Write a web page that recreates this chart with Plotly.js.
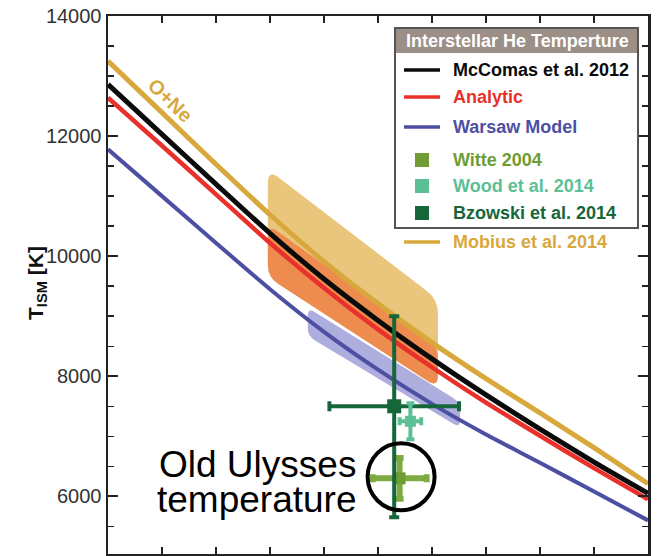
<!DOCTYPE html>
<html>
<head>
<meta charset="utf-8">
<script src="https://cdn.plot.ly/plotly-3.0.1.min.js"></script>
<style>html,body{margin:0;padding:0;background:#fff;}</style>
</head>
<body>
<div id="chart" style="width:658px;height:556px"></div>
<script>
// Inflow longitude (deg) and the temperature relations T(lambda) of each model
const lon = [70, 71, 72, 73, 74, 75, 76, 77, 78, 79, 80];
const tempMcComas  = [12860, 12030, 11200, 10380, 9620, 8930, 8290, 7690, 7120, 6570, 6050];
const tempAnalytic = [12640, 11840, 11030, 10220, 9470, 8780, 8150, 7560, 7010, 6470, 5950];
const tempWarsaw   = [11780, 11000, 10220, 9450, 8740, 8110, 7540, 7030, 6560, 6080, 5600];
const tempMobius   = [13250, 12390, 11530, 10690, 9910, 9210, 8560, 7960, 7390, 6810, 6210];

// Parameter tubes: longitude of left/right edges, upper and lower temperature at each edge
const tubeMobiusLon   = [72.96, 76.11];
const tubeMobiusUpper = [11450, 9280];
const tubeMobiusLower = [9700, 7880];
const tubeMcComasLon   = [72.96, 76.11];
const tubeMcComasUpper = [10530, 8490];
const tubeMcComasLower = [9650, 7810];
const tubeWarsawLon   = [73.70, 76.52];
const tubeWarsawUpper = [9140, 7570];
const tubeWarsawLower = [8670, 7140];

// Individual determinations with error bars
const measNames     = ['Witte 2004', 'Wood et al. 2014', 'Bzowski et al. 2014'];
const measLon       = [75.4, 75.6, 75.3];
const measLonErr    = [0.5, 0.2, 1.2];
const measTemp      = [6300, 7250, 7500];
const measTempPlus  = [340, 300, 1500];
const measTempMinus = [340, 300, 1850];

// Legend text
const legendTitle = 'Interstellar He Temperture';
const legendLabels = ['McComas et al. 2012', 'Analytic', 'Warsaw Model',
                      'Witte 2004', 'Wood et al. 2014', 'Bzowski et al. 2014', 'Mobius et al. 2014'];

const FONT = 'Arial, "Liberation Sans", sans-serif';
const C = {
  black: '#0a0a0a', red: '#e8312a', blue: '#4d4fa3', gold: '#d9a83c',
  witte: '#6f9d33', witteBar: '#7dab40', wood: '#5cbf96', bzowski: '#16663a',
  tubeGold: '#eac67c', tubeOrange: '#ee8c50', tubeBlue: 'rgba(105,105,195,0.55)',
  header: '#9b8f88'
};

// Figure geometry
const W = 658, H = 556, ML = 108, MR = 10, MT = 16, MB = 2;
const plotW = W - ML - MR, plotH = H - MT - MB;
const xr = [70, 80], yr = [5040, 14000];

const toPx = (x, y) => [(x - xr[0]) / (xr[1] - xr[0]) * plotW, (y - yr[0]) / (yr[1] - yr[0]) * plotH];
const toData = (p) => [xr[0] + p[0] / plotW * (xr[1] - xr[0]), yr[0] + p[1] / plotH * (yr[1] - yr[0])];
const fmt = (p) => { const d = toData(p); return d[0].toFixed(4) + ',' + d[1].toFixed(1); };
function along(p, q, r) {
  const dx = q[0] - p[0], dy = q[1] - p[1], len = Math.hypot(dx, dy);
  return [p[0] + dx / len * r, p[1] + dy / len * r];
}
// Quadrilateral tube with rounded corners, as an SVG path in data coordinates
function tubePath(lo, up, low, r) {
  const pts = [[lo[0], up[0]], [lo[1], up[1]], [lo[1], low[1]], [lo[0], low[0]]].map(c => toPx(c[0], c[1]));
  let d = '';
  for (let i = 0; i < 4; i++) {
    const p = pts[i], prev = pts[(i + 3) % 4], next = pts[(i + 1) % 4];
    const a = along(p, prev, r), b = along(p, next, r);
    d += (i === 0 ? 'M' : 'L') + fmt(a) + ' Q' + fmt(p) + ' ' + fmt(b) + ' ';
  }
  return d + 'Z';
}

// pixel -> paper helpers for the hand-built legend and labels
const px = (p) => (p - ML) / plotW;
const py = (p) => (H - MB - p) / plotH;

const curve = (y, color, width) => ({
  x: lon, y: y, type: 'scatter', mode: 'lines', showlegend: false, hoverinfo: 'skip',
  line: {color: color, width: width, shape: 'spline', smoothing: 0.6}
});
const meas = (i, color, barColor, size, thick, cap) => ({
  x: [measLon[i]], y: [measTemp[i]], type: 'scatter', mode: 'markers', showlegend: false,
  name: measNames[i],
  marker: {symbol: 'square', size: size, color: color},
  error_x: {type: 'data', array: [measLonErr[i]], color: barColor, thickness: thick, width: cap},
  error_y: {type: 'data', symmetric: false, array: [measTempPlus[i]], arrayminus: [measTempMinus[i]],
            color: barColor, thickness: thick, width: cap}
});

const traces = [
  curve(tempWarsaw, C.blue, 4),
  curve(tempAnalytic, C.red, 4.5),
  curve(tempMcComas, C.black, 5),
  curve(tempMobius, C.gold, 5),
  meas(0, C.witte, C.witteBar, 12, 6, 4),
  meas(2, C.bzowski, C.bzowski, 14, 4, 5),
  meas(1, C.wood, C.wood, 11, 4, 4)
];

const shapes = [
  {type: 'path', xref: 'x', yref: 'y', layer: 'below', path: tubePath(tubeMobiusLon, tubeMobiusUpper, tubeMobiusLower, 14),
   fillcolor: C.tubeGold, line: {width: 0}},
  {type: 'path', xref: 'x', yref: 'y', layer: 'below', path: tubePath(tubeMcComasLon, tubeMcComasUpper, tubeMcComasLower, 12),
   fillcolor: C.tubeOrange, line: {width: 0}},
  {type: 'path', xref: 'x', yref: 'y', layer: 'below', path: tubePath(tubeWarsawLon, tubeWarsawUpper, tubeWarsawLower, 8),
   fillcolor: C.tubeBlue, line: {width: 0}},
  // circle around the Witte (2004) value
  {type: 'circle', xref: 'x', yref: 'y', xsizemode: 'pixel', ysizemode: 'pixel',
   xanchor: measLon[0], yanchor: measTemp[0], x0: -32, x1: 35, y0: -32, y1: 35,
   line: {color: '#000', width: 4}, layer: 'above'},
  // legend box and header
  {type: 'rect', xref: 'paper', yref: 'paper', x0: px(395), x1: px(638), y0: py(228), y1: py(28),
   fillcolor: '#fff', line: {color: '#555', width: 2}, layer: 'above'},
  {type: 'rect', xref: 'paper', yref: 'paper', x0: px(396), x1: px(637), y0: py(53), y1: py(29),
   fillcolor: C.header, line: {width: 0}, layer: 'above'}
];

const annotations = [
  {xref: 'paper', yref: 'paper', x: px(37), y: py(283), text: '<b>T<sub>ISM</sub> [K]</b>', showarrow: false,
   textangle: -90, font: {family: FONT, size: 21, color: '#111'}, xanchor: 'center', yanchor: 'middle'},
  {xref: 'paper', yref: 'paper', x: px(517), y: py(41), text: '<b>' + legendTitle + '</b>', showarrow: false,
   font: {family: FONT, size: 18, color: '#fff'}, xanchor: 'center', yanchor: 'middle'},
  {xref: 'paper', yref: 'paper', x: px(170), y: py(100), text: '<b>O+Ne</b>', showarrow: false, textangle: 44,
   font: {family: FONT, size: 20, color: C.gold}, xanchor: 'center', yanchor: 'middle'},
  {xref: 'paper', yref: 'paper', x: px(257), y: py(464), text: 'Old Ulysses', showarrow: false,
   font: {family: FONT, size: 37, color: '#000'}, xanchor: 'center', yanchor: 'middle'},
  {xref: 'paper', yref: 'paper', x: px(257), y: py(499), text: 'temperature', showarrow: false,
   font: {family: FONT, size: 37, color: '#000'}, xanchor: 'center', yanchor: 'middle'}
];

// legend entries: line swatches, square swatches, and labels
const entryY = [70, 97, 127, 160, 186, 213, 242];
const entryColor = [C.black, C.red, C.blue, C.witte, C.wood, C.bzowski, C.gold];
const entryKind = ['line', 'line', 'line', 'square', 'square', 'square', 'line'];
entryY.forEach((yy, i) => {
  if (entryKind[i] === 'line') {
    shapes.push({type: 'line', xref: 'paper', yref: 'paper', x0: px(404), x1: px(440), y0: py(yy), y1: py(yy),
                 line: {color: entryColor[i], width: 3.5}, layer: 'above'});
  } else {
    shapes.push({type: 'rect', xref: 'paper', yref: 'paper', x0: px(415), x1: px(429), y0: py(yy + 7), y1: py(yy - 7),
                 fillcolor: entryColor[i], line: {width: 0}, layer: 'above'});
  }
  annotations.push({xref: 'paper', yref: 'paper', x: px(451), y: py(yy), text: '<b>' + legendLabels[i] + '</b>',
    showarrow: false, xanchor: 'left', yanchor: 'middle', font: {family: FONT, size: 18, color: entryColor[i]}});
});

const layout = {
  width: W, height: H,
  margin: {l: ML, r: MR, t: MT, b: MB, pad: 0},
  paper_bgcolor: '#fff', plot_bgcolor: '#fff',
  showlegend: false,
  xaxis: {range: xr, dtick: 1, tick0: 70, ticks: 'inside', ticklen: 7, tickwidth: 1.5, tickcolor: '#222',
          showticklabels: false, showline: true, linewidth: 2.5, linecolor: '#222', mirror: 'ticks',
          showgrid: false, zeroline: false},
  yaxis: {range: yr, dtick: 2000, tick0: 0, ticks: 'inside', ticklen: 10, tickwidth: 2, tickcolor: '#222',
          minor: {dtick: 500, ticks: 'inside', ticklen: 6, tickwidth: 1.5, tickcolor: '#222'},
          showline: true, linewidth: 2.5, linecolor: '#222', mirror: 'ticks',
          showgrid: false, zeroline: false, tickformat: 'd',
          tickfont: {family: FONT, size: 20, color: '#333'}},
  shapes: shapes,
  annotations: annotations
};

Plotly.newPlot('chart', traces, layout, {staticPlot: true, displayModeBar: false});
</script>
</body>
</html>
